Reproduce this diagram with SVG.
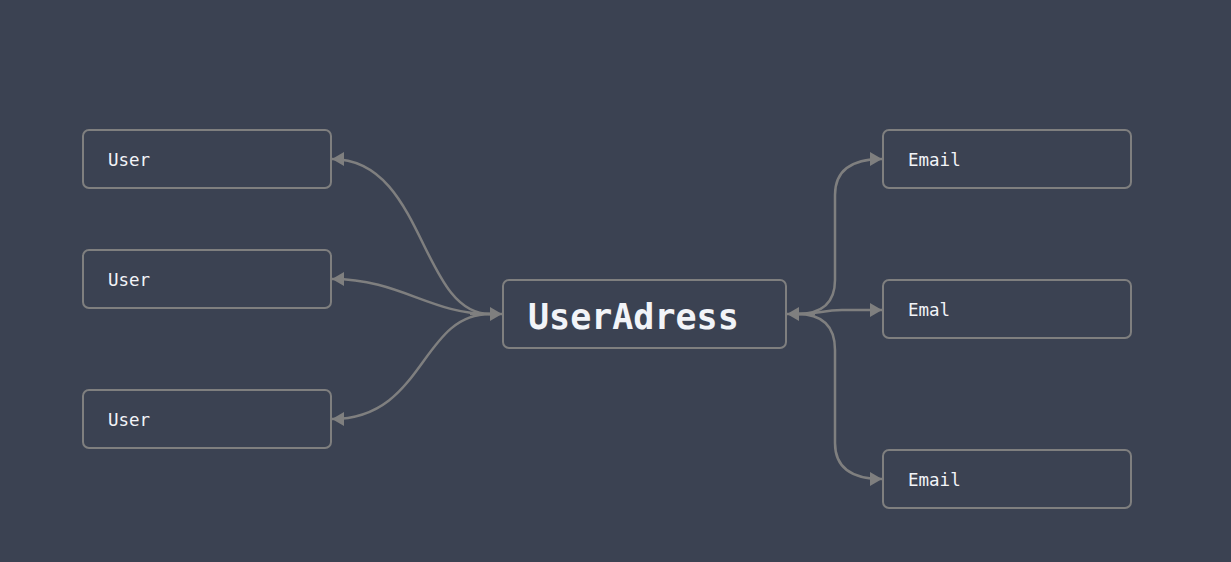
<svg xmlns="http://www.w3.org/2000/svg" width="1231" height="562" viewBox="0 0 1231 562">
<style>
.node rect{fill:#3b4252;stroke:#7f7f7f;stroke-width:2}
.node text{fill:#f2f4f8;font-family:"DejaVu Sans Mono","Liberation Mono",monospace;font-size:17.5px}
.node text.big{font-size:35px;font-weight:bold}
.edges path{fill:none;stroke:#7f7f7f;stroke-width:2.5}
</style>
<defs>
<marker id="arr" viewBox="0 0 10 10" refX="10" refY="5" markerWidth="12" markerHeight="14" markerUnits="userSpaceOnUse" orient="auto" preserveAspectRatio="none">
<path d="M0,0 L10,5 L0,10 Z" fill="#7f7f7f"/>
</marker>
</defs>
<rect width="1231" height="562" fill="#3b4252"/>
<g id="user1" class="node"><rect x="83" y="130" width="248" height="58" rx="6"/><text x="108" y="166">User</text></g>
<g id="user2" class="node"><rect x="83" y="250" width="248" height="58" rx="6"/><text x="108" y="286">User</text></g>
<g id="user3" class="node"><rect x="83" y="390" width="248" height="58" rx="6"/><text x="108" y="426">User</text></g>
<g id="useradress" class="node"><rect x="503" y="280" width="283" height="68" rx="6"/><text class="big" x="528" y="329">UserAdress</text></g>
<g id="email1" class="node"><rect x="883" y="130" width="248" height="58" rx="6"/><text x="908" y="166">Email</text></g>
<g id="emal" class="node"><rect x="883" y="280" width="248" height="58" rx="6"/><text x="908" y="316">Emal</text></g>
<g id="email3" class="node"><rect x="883" y="450" width="248" height="58" rx="6"/><text x="908" y="486">Email</text></g>
<g id="edges" class="edges">
<path d="M490 314 C420 314 425 159 332 159" marker-end="url(#arr)"/>
<path d="M490 314 C430 314 400 279 332 279" marker-end="url(#arr)"/>
<path d="M490 314 C420 314 425 419 332 419" marker-end="url(#arr)"/>
<path d="M470 314 L502 314" marker-end="url(#arr)"/>
<path d="M815 314 L787 314" marker-end="url(#arr)"/>
<path d="M797 314 Q835 314 835 280 L835 195 Q835 159 882 159" marker-end="url(#arr)"/>
<path d="M797 314 C820 314 822 310 842 310 L882 310" marker-end="url(#arr)"/>
<path d="M797 314 Q835 314 835 350 L835 443 Q835 479 882 479" marker-end="url(#arr)"/>
</g>
</svg>
